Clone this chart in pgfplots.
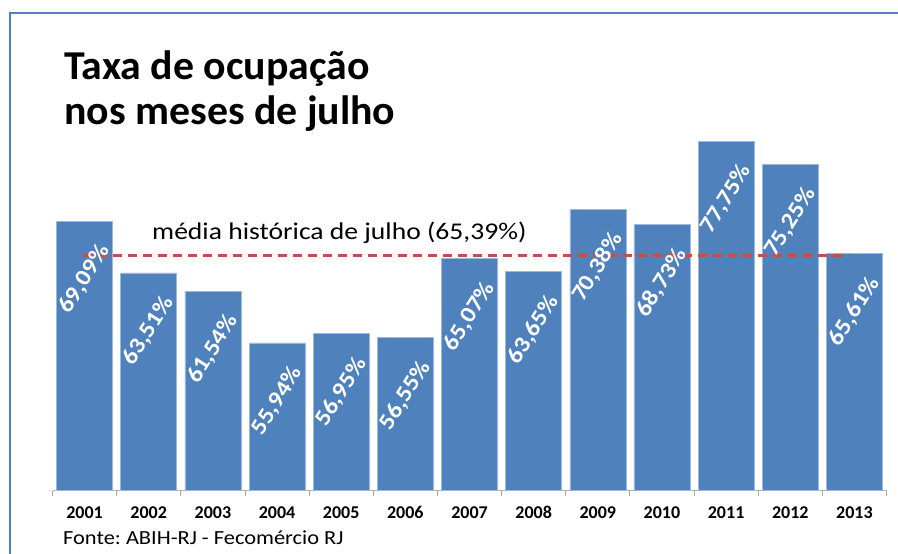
\documentclass[border=0pt]{standalone}
\usepackage{fontspec}
\setmainfont{Carlito}
\usepackage{pgfplots}
\pgfplotsset{compat=1.18}
\definecolor{barblue}{HTML}{4F81BD}
\definecolor{avgred}{HTML}{C0504D}
\frenchspacing
\begin{document}
\begin{tikzpicture}
\path[use as bounding box] (0pt,0pt) rectangle (898pt,554pt);
\draw[barblue, line width=1.5pt] (10pt,0pt) -- (10pt,541pt) -- (898pt,541pt);
\node[anchor=base west, inner sep=0pt, font=\fontsize{41}{45}\selectfont\bfseries] at (64pt,474pt) {\scalebox{1.02}[1]{Taxa de ocupação}};
\node[anchor=base west, inner sep=0pt, font=\fontsize{41}{45}\selectfont\bfseries] at (64pt,429pt) {\scalebox{1.02}[1]{nos meses de julho}};
\begin{axis}[
  at={(52.5pt,63.4pt)}, anchor=south west,
  scale only axis, width=834pt, height=370.4pt,
  xmin=-0.5, xmax=12.5, ymin=40, ymax=80,
  hide y axis,
  axis x line*=bottom,
  x axis line style={draw=gray!60, line width=0.8pt},
  xtick={0,...,12},
  xticklabels={2001,2002,2003,2004,2005,2006,2007,2008,2009,2010,2011,2012,2013},
  major tick length=0pt,
  minor xtick={-0.5,0.5,...,12.5},
  minor tick length=5pt,
  tick align=outside,
  minor tick style={draw=gray!70, line width=0.8pt},
  xticklabel style={font=\fontsize{18}{18}\selectfont\bfseries, anchor=base, yshift=-28pt},
  clip=false,
]
\addplot[ybar, bar width=56pt, bar shift=0pt, fill=barblue, draw=barblue!55!white, line width=0.6pt,
  nodes near coords={\scalebox{1.1}[1]{\pgfmathprintnumber[fixed,fixed zerofill,precision=2,use comma,assume math mode=true]{\pgfplotspointmeta}\%}},
  nodes near coords style={font=\fontsize{23}{23}\selectfont\bfseries, text=white, anchor=center, yshift=-58pt, rotate=58}]
  coordinates {(0,69.09) (1,63.51) (2,61.54) (3,55.94) (4,56.95) (5,56.55) (6,65.07) (7,63.65) (8,70.38) (9,68.73) (10,77.75) (11,75.25) (12,65.61)};
\addplot[avgred, line width=3pt, dash pattern=on 9pt off 6pt] coordinates {(-0.03,65.39) (11.92,65.39)};
\end{axis}
\node[anchor=base west, inner sep=0pt, font=\fontsize{24}{24}\selectfont] at (152pt,314pt) {\scalebox{1.15}[1]{média histórica de julho (65,39\%)}};
\node[anchor=base west, inner sep=0pt, font=\fontsize{20}{20}\selectfont] at (63pt,9pt) {\scalebox{1.12}[1]{Fonte: ABIH-RJ - Fecomércio RJ}};
\end{tikzpicture}
\end{document}
